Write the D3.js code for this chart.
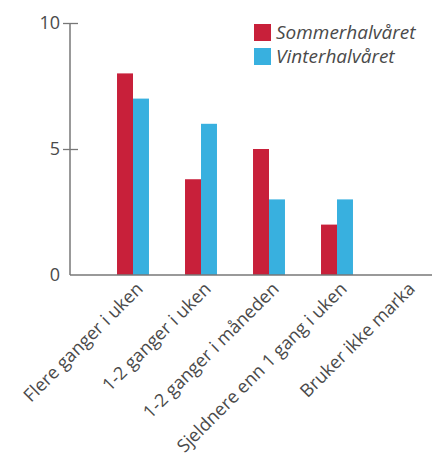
<html>
    <head>
        <script src="https://d3js.org/d3.v7.min.js"></script>
        <style>
            body { margin: 0; background: white; }
            text { font-family: "Open Sans", sans-serif; fill: #4a4a4a; }
        </style>
    </head>
    <body>
        <svg id="chart" width="432" height="460"></svg>
        <script>
            const categories = ["Flere ganger i uken", "1-2 ganger i uken", "1-2 ganger i måneden", "Sjeldnere enn 1 gang i uken", "Bruker ikke marka"];
            const seriesNames = ["Sommerhalvåret", "Vinterhalvåret"];
            const summer = [8, 3.8, 5, 2, 0];
            const winter = [7, 6, 3, 3, 0];
            const yTicks = [0, 5, 10];
            const colors = ["#c8203a", "#38b0df"];

            const svg = d3.select("#chart");
            const plotLeft = 70, plotRight = 432, plotTop = 23, plotBottom = 275;

            const y = d3.scaleLinear().domain([0, 10]).range([plotBottom, plotTop]);
            const x = d3.scaleBand().domain(categories)
                .range([99, 439])
                .paddingInner(0.53)
                .paddingOuter(0.265);
            const xSub = d3.scaleBand().domain([0, 1]).range([0, x.bandwidth()]);

            const rows = categories.map((c, i) => ({cat: c, vals: [summer[i], winter[i]]}));

            // bars
            const groups = svg.append("g").selectAll("g")
                .data(rows)
                .join("g")
                .attr("transform", d => `translate(${x(d.cat)},0)`);

            groups.selectAll("rect")
                .data(d => d.vals.map((v, k) => ({v, k})).filter(d => d.v > 0))
                .join("rect")
                .attr("x", d => xSub(d.k))
                .attr("y", d => y(d.v))
                .attr("width", xSub.bandwidth())
                .attr("height", d => y(0) - y(d.v))
                .attr("fill", d => colors[d.k]);

            // y axis
            const yAxis = d3.axisLeft(y).tickValues(yTicks).tickSize(7).tickPadding(3);
            const ya = svg.append("g")
                .attr("transform", `translate(${plotLeft},0)`)
                .call(yAxis);
            ya.select(".domain").remove();
            ya.selectAll(".tick line").attr("x2", 8).attr("x1", -7).attr("stroke", "#777").attr("stroke-width", 1.3);
            ya.selectAll(".tick").filter(d => d === 0).select("line").remove();
            ya.selectAll("text").style("font-size", "18px").attr("x", -10).attr("fill", "#4a4a4a");

            svg.append("line")
                .attr("x1", plotLeft).attr("x2", plotLeft)
                .attr("y1", y(10)).attr("y2", y(0))
                .attr("stroke", "#777").attr("stroke-width", 1.5);
            svg.append("line")
                .attr("x1", plotLeft).attr("x2", plotRight)
                .attr("y1", y(0)).attr("y2", y(0))
                .attr("stroke", "#777").attr("stroke-width", 1.5);

            // x labels
            svg.append("g").selectAll("text")
                .data(categories)
                .join("text")
                .attr("transform", d => `translate(${x(d) + x.bandwidth() / 2 + 11},${plotBottom + 15}) rotate(-45)`)
                .attr("text-anchor", "end")
                .style("font-size", "18px")
                .text(d => d);

            // legend
            const legend = svg.append("g").attr("transform", "translate(254,24)");
            seriesNames.forEach((name, i) => {
                legend.append("rect")
                    .attr("x", 0).attr("y", i * 24)
                    .attr("width", 17).attr("height", 17)
                    .attr("fill", colors[i]);
                legend.append("text")
                    .attr("x", 22).attr("y", i * 24 + 15)
                    .style("font-size", "19px")
                    .style("font-style", "italic")
                    .text(name);
            });
        </script>
    </body>
</html>
